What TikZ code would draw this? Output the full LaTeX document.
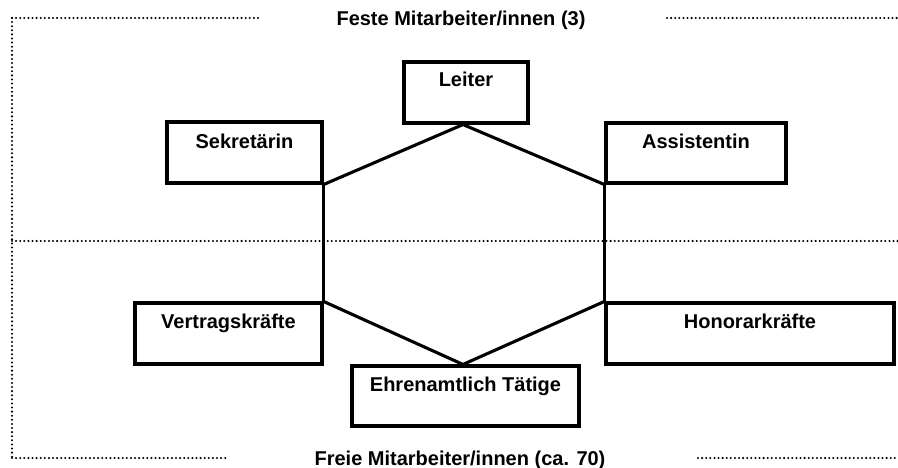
\documentclass[tikz,border=0pt]{standalone}
\usepackage{fontspec}
\setmainfont{Liberation Sans}
\usetikzlibrary{calc}
\begin{document}
\begin{tikzpicture}[x=1pt,y=-1pt,
  box/.style={draw=black, line width=3.1pt, rectangle, inner sep=0pt},
  lbl/.style={font=\fontsize{20}{23}\selectfont\bfseries, anchor=base, inner sep=0pt},
  conn/.style={draw=black, line width=3.1pt},
  dotline/.style={draw=black, line width=2.3pt, line cap=round, dash pattern=on 0pt off 4.1pt}]
\useasboundingbox (0,0) rectangle (898,468);
% dotted frame
\draw[dotline] (12,18) -- (260,18);
\draw[dotline] (667,18) -- (898,18);
\draw[dotline] (12,18) -- (12,458);
\draw[dotline] (12,241) -- (898,241);
\draw[dotline] (12,458) -- (227,458);
\draw[dotline] (698,458) -- (898,458);
% group titles
\node[lbl] (feste) at (461,26) {Feste Mitarbeiter/innen (3)};
\node[lbl] (freie) at (460,465) {Freie Mitarbeiter/innen (ca. 70)};
% boxes
\node[box, minimum width=124, minimum height=61] (leiter) at (466,92.5) {};
\node[box, minimum width=155, minimum height=61] (sekr) at (244.5,152.5) {};
\node[box, minimum width=180, minimum height=60] (assi) at (696,153) {};
\node[box, minimum width=187, minimum height=61] (vertr) at (228.5,333.5) {};
\node[box, minimum width=288, minimum height=61] (hono) at (750,333.5) {};
\node[box, minimum width=227, minimum height=60] (ehren) at (465.5,396) {};
% labels
\node[lbl] at ($(leiter.north)+(0,26)$) {Leiter};
\node[lbl] at ($(sekr.north)+(0,28)$) {Sekretärin};
\node[lbl] at ($(assi.north)+(0,27)$) {Assistentin};
\node[lbl] at ($(vertr.north)+(0,27)$) {Vertragskräfte};
\node[lbl] at ($(hono.north)+(0,27)$) {Honorarkräfte};
\node[lbl] at ($(ehren.north)+(0,27)$) {Ehrenamtlich Tätige};
% connectors
\draw[conn, line join=miter] (sekr.south east) -- ($(leiter.south)+(-3,0)$) -- (assi.south west);
\draw[conn] (sekr.south east) -- (vertr.north east);
\draw[conn] (assi.south west) -- (hono.north west);
\draw[conn, line join=miter] (vertr.north east) -- ($(ehren.north)+(-2.5,0)$) -- (hono.north west);
\end{tikzpicture}
\end{document}
